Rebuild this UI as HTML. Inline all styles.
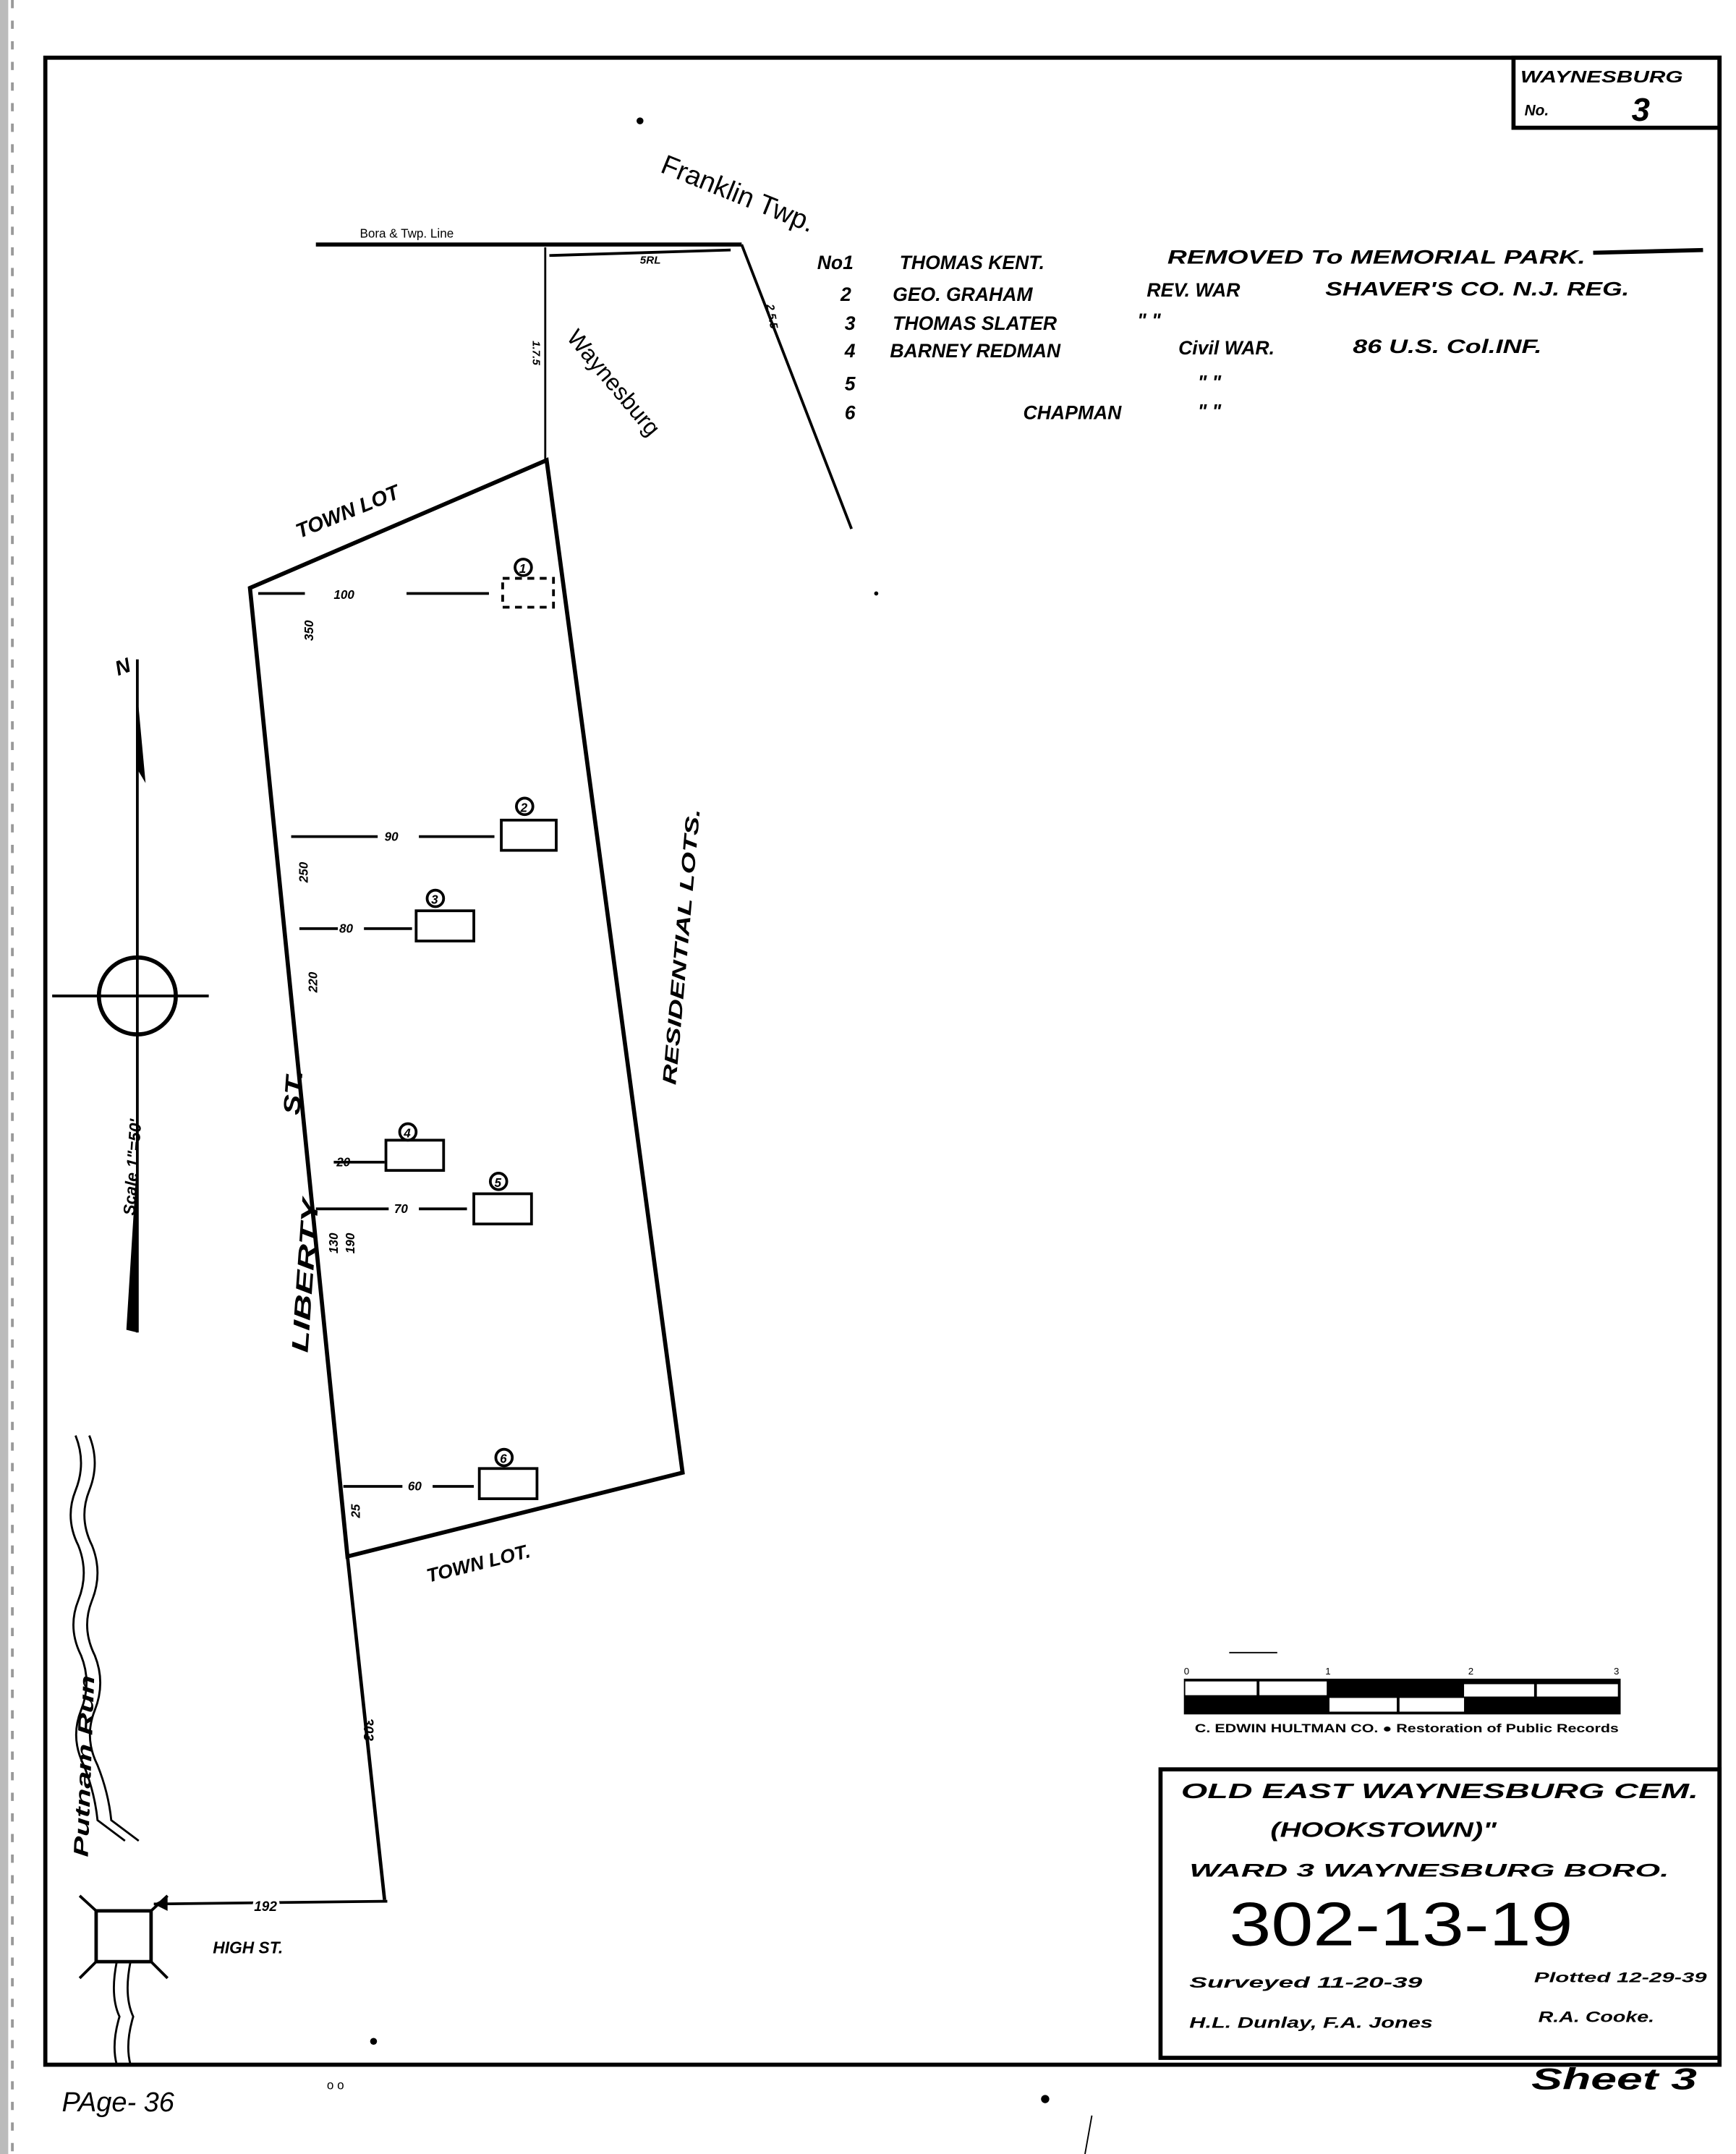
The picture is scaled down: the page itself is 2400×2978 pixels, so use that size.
<!DOCTYPE html>
<html><head><meta charset="utf-8"><style>
html,body{margin:0;padding:0;background:#fff;}
svg{display:block;}
text{font-family:"Liberation Sans",sans-serif;fill:#000;}
.h{font-style:italic;font-weight:bold;}
</style></head><body>
<svg width="2400" height="2978" viewBox="0 0 1264 1568" preserveAspectRatio="none" xmlns="http://www.w3.org/2000/svg">
<rect width="1264" height="1568" fill="#fff"/>
<rect x="0" y="0" width="6" height="1568" fill="#bbb"/>
<line x1="9" y1="0" x2="9" y2="1568" stroke="#999" stroke-width="2" stroke-dasharray="6 9"/>
<rect x="33" y="42" width="1219" height="1461" fill="none" stroke="#000" stroke-width="3"/>
<rect x="1102" y="42" width="150" height="51" fill="none" stroke="#000" stroke-width="3"/>
<text class="h" font-size="12" transform="translate(1107 60) scale(1.37 1)">WAYNESBURG</text>
<text x="1110" y="84" class="h" font-size="11">No.</text>
<text x="1188" y="88" class="h" font-size="24">3</text>
<circle cx="466" cy="88" r="2.5" fill="#000"/>
<text x="480" y="125" font-size="20" transform="rotate(22 480 125)">Franklin Twp.</text>
<line x1="230" y1="178" x2="540" y2="178" stroke="#000" stroke-width="3"/>
<text x="262" y="173" font-size="9">Bora &amp; Twp.  Line</text>
<line x1="397" y1="180" x2="397" y2="335" stroke="#000" stroke-width="1.5"/>
<line x1="400" y1="186" x2="532" y2="182" stroke="#000" stroke-width="2"/>
<text x="466" y="192" font-size="8" class="h">5RL</text>
<line x1="540" y1="178" x2="620" y2="385" stroke="#000" stroke-width="2"/>
<text x="558" y="222" font-size="8" class="h" transform="rotate(80 558 222)">2.5.5</text>
<text x="388" y="248" font-size="8" class="h" transform="rotate(90 388 248)">1.7.5</text>
<text x="412" y="246" font-size="17" transform="rotate(50 412 246)">Waynesburg</text>
<g class="h" font-size="14">
<text x="595" y="196">No1</text><text x="655" y="196">THOMAS KENT.</text><text transform="translate(850 192) scale(1.4 1)">REMOVED To MEMORIAL PARK.</text>
<text x="612" y="219">2</text><text x="650" y="219">GEO. GRAHAM</text><text x="835" y="216">REV. WAR</text><text transform="translate(965 215) scale(1.33 1)">SHAVER'S CO. N.J. REG.</text>
<text x="615" y="240">3</text><text x="650" y="240">THOMAS  SLATER</text><text x="828" y="238">"    "</text>
<text x="615" y="260">4</text><text x="648" y="260">BARNEY  REDMAN</text><text x="858" y="258">Civil WAR.</text><text transform="translate(985 257) scale(1.35 1)">86 U.S. Col.INF.</text>
<text x="615" y="284">5</text><text x="872" y="283">"    "</text>
<text x="615" y="305">6</text><text x="745" y="305">CHAPMAN</text><text x="872" y="304">"    "</text>
</g>
<line x1="1160" y1="184" x2="1240" y2="182" stroke="#000" stroke-width="3"/>
<polygon points="182,428 398,335 497,1072 253,1133" fill="none" stroke="#000" stroke-width="3"/>
<text x="218" y="392" font-size="15" class="h" transform="rotate(-22 218 392)">TOWN   LOT</text>
<text x="312" y="1152" font-size="14" class="h" transform="rotate(-14 312 1152)">TOWN  LOT.</text>
<text font-size="14" class="h" transform="translate(492 790) rotate(-85) scale(1.46 1)">RESIDENTIAL  LOTS.</text>
<text font-size="17" class="h" transform="translate(224 985) rotate(-86) scale(1.55 1)">LIBERTY</text>
<text font-size="17" class="h" transform="translate(218 812) rotate(-86) scale(1.3 1)">ST.</text>
<g stroke="#000" stroke-width="2" fill="none">
<rect x="366" y="421" width="37" height="21" stroke-dasharray="5 4"/>
<circle cx="381" cy="413" r="6"/>
<line x1="188" y1="432" x2="222" y2="432"/><line x1="296" y1="432" x2="356" y2="432"/>
<rect x="365" y="597" width="40" height="22"/><circle cx="382" cy="587" r="6"/>
<line x1="212" y1="609" x2="275" y2="609"/><line x1="305" y1="609" x2="360" y2="609"/>
<rect x="303" y="663" width="42" height="22"/><circle cx="317" cy="654" r="6"/>
<line x1="218" y1="676" x2="246" y2="676"/><line x1="265" y1="676" x2="300" y2="676"/>
<rect x="281" y="830" width="42" height="22"/><circle cx="297" cy="824" r="6"/>
<line x1="243" y1="846" x2="280" y2="846"/>
<rect x="345" y="869" width="42" height="22"/><circle cx="363" cy="860" r="6"/>
<line x1="230" y1="880" x2="283" y2="880"/><line x1="305" y1="880" x2="340" y2="880"/>
<rect x="349" y="1069" width="42" height="22"/><circle cx="367" cy="1061" r="6"/>
<line x1="250" y1="1082" x2="293" y2="1082"/><line x1="315" y1="1082" x2="345" y2="1082"/>
</g>
<g font-size="9" class="h">
<text x="378" y="417">1</text><text x="379" y="591">2</text><text x="314" y="658">3</text><text x="294" y="828">4</text><text x="360" y="864">5</text><text x="364" y="1065">6</text>
<text x="243" y="436">100</text><text x="280" y="612">90</text><text x="247" y="679">80</text><text x="245" y="849">20</text><text x="287" y="883">70</text><text x="297" y="1085">60</text>
</g>
<g font-size="9" class="h" text-anchor="middle">
<text x="225" y="462" transform="rotate(-90 225 459)">350</text>
<text x="221" y="638" transform="rotate(-90 221 635)">250</text>
<text x="228" y="718" transform="rotate(-90 228 715)">220</text>
<text x="243" y="908" transform="rotate(-90 243 905)">130</text>
<text x="255" y="908" transform="rotate(-90 255 905)">190</text>
<text x="259" y="1103" transform="rotate(-90 259 1100)">25</text>
</g>
<line x1="253" y1="1133" x2="280" y2="1383" stroke="#000" stroke-width="2.5"/>
<text x="268" y="1262" font-size="10" class="h" text-anchor="middle" transform="rotate(90 268 1259)">303</text>
<line x1="112" y1="1386" x2="282" y2="1384" stroke="#000" stroke-width="2"/>
<polygon points="112,1386 122,1381 122,1391" fill="#000"/>
<text x="185" y="1391" font-size="10" class="h" fill="#fff" stroke="#fff" stroke-width="4">192</text>
<text x="185" y="1391" font-size="10" class="h">192</text>
<text x="155" y="1422" font-size="12" class="h">HIGH ST.</text>
<rect x="70" y="1391" width="40" height="37" fill="none" stroke="#000" stroke-width="2.5"/>
<g stroke="#000" stroke-width="2"><line x1="70" y1="1391" x2="58" y2="1380"/><line x1="110" y1="1391" x2="122" y2="1380"/><line x1="70" y1="1428" x2="58" y2="1440"/><line x1="110" y1="1428" x2="122" y2="1440"/></g>
<path d="M55 1045 q8 20 0 40 q-8 20 2 40 q8 20 0 40 q-8 20 2 40 q8 20 0 40 q-8 20 2 40 q8 20 10 40 l20 15 M65 1045 q8 20 0 40 q-8 20 2 40 q8 20 0 40 q-8 20 2 40 q8 20 0 40 q-8 20 2 40 q8 20 10 40 l20 15 M85 1428 q-5 25 2 40 q-6 20 -2 35 M95 1428 q-5 25 2 40 q-6 20 -2 35" fill="none" stroke="#000" stroke-width="1.5"/>
<text font-size="15" class="h" transform="translate(64 1352) rotate(-88) scale(1.5 1)">Putnam  Run</text>
<line x1="100" y1="480" x2="100" y2="970" stroke="#000" stroke-width="2"/>
<polygon points="100,505 106,570 100,560" fill="#000"/>
<polygon points="100,840 100,970 92,968" fill="#000"/>
<text x="86" y="492" font-size="15" class="h" transform="rotate(-20 86 492)">N</text>
<circle cx="100" cy="725" r="28" fill="none" stroke="#000" stroke-width="3"/>
<line x1="38" y1="725" x2="152" y2="725" stroke="#000" stroke-width="2"/>
<text x="98" y="885" font-size="12" class="h" transform="rotate(-86 98 885)">Scale 1"=50'</text>
<g transform="translate(862,1222)">
<rect x="0" y="0" width="318" height="26" fill="#000"/>
<rect x="1" y="2" width="52" height="10" fill="#fff"/><rect x="55" y="2" width="49" height="10" fill="#fff"/>
<rect x="204" y="4" width="51" height="9" fill="#fff"/><rect x="257" y="4" width="59" height="9" fill="#fff"/>
<rect x="106" y="14" width="49" height="10" fill="#fff"/><rect x="157" y="14" width="47" height="10" fill="#fff"/>
<text x="0" y="-3" font-size="7">0</text><text x="103" y="-3" font-size="7">1</text><text x="207" y="-3" font-size="7">2</text><text x="313" y="-3" font-size="7">3</text>
</g>
<text font-size="8.5" font-weight="bold" transform="translate(870 1261) scale(1.33 1)">C. EDWIN HULTMAN CO.  ●  Restoration of Public Records</text>
<line x1="895" y1="1203" x2="930" y2="1203" stroke="#000" stroke-width="1"/>
<rect x="845" y="1288" width="407" height="210" fill="none" stroke="#000" stroke-width="3"/>
<g class="h">
<text font-size="15" transform="translate(860 1309) scale(1.64 1)">OLD  EAST  WAYNESBURG    CEM.</text>
<text font-size="15" transform="translate(925 1337) scale(1.4 1)">(HOOKSTOWN)"</text>
<text font-size="13" transform="translate(866 1366) scale(1.8 1)">WARD 3   WAYNESBURG    BORO.</text>
<text font-size="45" font-style="normal" font-weight="normal" transform="translate(895 1416) scale(1.22 1)">302-13-19</text>
<text font-size="11" transform="translate(866 1447) scale(1.77 1)">Surveyed  11-20-39</text>
<text font-size="10" transform="translate(1117 1443) scale(1.64 1)">Plotted 12-29-39</text>
<text font-size="11" transform="translate(866 1476) scale(1.47 1)">H.L. Dunlay,  F.A. Jones</text>
<text font-size="11" transform="translate(1120 1472) scale(1.37 1)">R.A. Cooke.</text>
</g>
<text font-size="22" class="h" transform="translate(1115 1521) scale(1.54 1)">Sheet 3</text>
<text x="45" y="1537" font-size="20" font-family="Liberation Serif" font-style="italic">PAge- 36</text>
<text x="238" y="1521" font-size="9">o o</text>
<circle cx="761" cy="1528" r="3" fill="#000"/>
<line x1="795" y1="1540" x2="790" y2="1568" stroke="#000" stroke-width="1"/>
<circle cx="272" cy="1486" r="2.5" fill="#000"/>
<circle cx="638" cy="432" r="1.5" fill="#000"/>
</svg>
</body></html>
